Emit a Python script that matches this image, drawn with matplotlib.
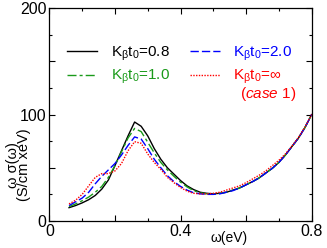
import matplotlib
matplotlib.use("Agg")
import matplotlib.pyplot as plt
from matplotlib.ticker import MultipleLocator, FuncFormatter

plt.rcParams['font.family'] = ['Liberation Sans', 'DejaVu Sans']
plt.rcParams['mathtext.fontset'] = 'custom'
plt.rcParams['mathtext.rm'] = 'Liberation Sans'
plt.rcParams['mathtext.it'] = 'Liberation Sans:italic'

# photon energy (eV)
omega = [0.06, 0.08, 0.10, 0.12, 0.14, 0.16, 0.18, 0.20, 0.22, 0.24,
         0.26, 0.28, 0.30, 0.32, 0.34, 0.36, 0.38, 0.40, 0.42, 0.44,
         0.46, 0.48, 0.50, 0.52, 0.54, 0.56, 0.58, 0.60, 0.62, 0.64,
         0.66, 0.68, 0.70, 0.72, 0.74, 0.76, 0.78, 0.80]

k08 = [12.5, 14.5, 17, 20, 24, 30, 38.5, 52, 66, 80,
       93, 89, 80, 68, 58, 50, 44, 38, 33, 29.5,
       27, 26, 25.5, 26, 27, 29, 31, 34, 37, 40.5,
       45, 49.5, 55, 62, 70, 78, 88, 100]
k10 = [13.5, 16, 19, 22.5, 27, 32.5, 41, 52, 65, 78,
       87, 84, 74, 64, 55, 48, 42, 36.5, 32, 28.5,
       26.5, 25.5, 25.5, 26, 27, 29, 31, 34, 37, 40.5,
       45, 49.5, 55, 62, 70, 78, 88, 100]
k20 = [14.5, 18, 21.5, 27, 35, 42, 48, 54, 62, 71,
       79, 77, 68, 58, 50, 42.5, 37, 32.5, 29, 26.5,
       25.5, 25, 25, 25.5, 27, 28.5, 31, 34, 37, 40.5,
       45, 49.5, 55, 62, 70, 78, 88, 100]
kinf = [16, 19.5, 25, 33, 41, 44.5, 44.5, 47, 54, 66,
        74.5, 73, 63, 55, 48.5, 41, 36, 31.5, 28, 26,
        25.5, 25.5, 26, 27, 29, 31, 33, 36, 39.5, 43,
        47, 52, 57, 63, 70.5, 78.5, 88.5, 100]

green = "#1a9a1a"

fig = plt.figure(figsize=(3.27, 2.48), dpi=100)
ax = fig.add_axes([0.151, 0.109, 0.802, 0.858])

ax.plot(omega, k08, color="black", lw=1.0, ls="-",
        label=r"K$_{\mathrm{β}}$t$_{\mathrm{0}}$=0.8")
ax.plot(omega, k10, color=green, lw=1.0, ls=(0, (6.5, 2.2, 2.2, 2.2)),
        label=r"K$_{\mathrm{β}}$t$_{\mathrm{0}}$=1.0")
ax.plot(omega, k20, color="blue", lw=1.0, ls=(0, (6, 2.2)),
        label=r"K$_{\mathrm{β}}$t$_{\mathrm{0}}$=2.0")
ax.plot(omega, kinf, color="red", lw=1.0, ls=(0, (1, 1)),
        label=r"K$_{\mathrm{β}}$t$_{\mathrm{0}}$=∞")

ax.set_xlim(0, 0.8)
ax.set_ylim(0, 200)

ax.xaxis.set_major_locator(MultipleLocator(0.2))
ax.xaxis.set_minor_locator(MultipleLocator(0.1))
ax.yaxis.set_major_locator(MultipleLocator(50))
ax.yaxis.set_minor_locator(MultipleLocator(25))
ax.xaxis.set_major_formatter(FuncFormatter(
    lambda v, p: {0: "0", 2: "0.4", 4: "0.8"}.get(int(round(v / 0.2)), "")))
ax.yaxis.set_major_formatter(FuncFormatter(
    lambda v, p: "%d" % v if int(round(v)) % 100 == 0 else ""))
ax.tick_params(which="both", direction="in", top=True, right=True,
               labelsize=11.5, pad=2)
ax.tick_params(which="major", length=4, width=0.8)
ax.tick_params(which="minor", length=2.5, width=0.8)
for s in ax.spines.values():
    s.set_linewidth(0.9)

ax.set_xlabel("ω(eV)", fontsize=10)
ax.xaxis.set_label_coords(0.685, -0.045)
ax.set_ylabel("ω σ(ω)\n(S/cm xeV)", fontsize=10.5, linespacing=0.72)
ax.yaxis.set_label_coords(-0.07, 0.263)

leg = ax.legend(handles=ax.lines, ncol=2, loc="upper left",
                bbox_to_anchor=(0.067, 0.83), frameon=False, fontsize=11,
                handlelength=1.96, handletextpad=0.9, columnspacing=1.3,
                labelspacing=0.35, labelcolor="linecolor", borderaxespad=0,
                borderpad=0)

ax.text(0.727, 0.597, r"($\mathit{case\ 1}$)", color="red", fontsize=11,
        transform=ax.transAxes, ha="left", va="center")

fig.savefig("out.png", dpi=100)
